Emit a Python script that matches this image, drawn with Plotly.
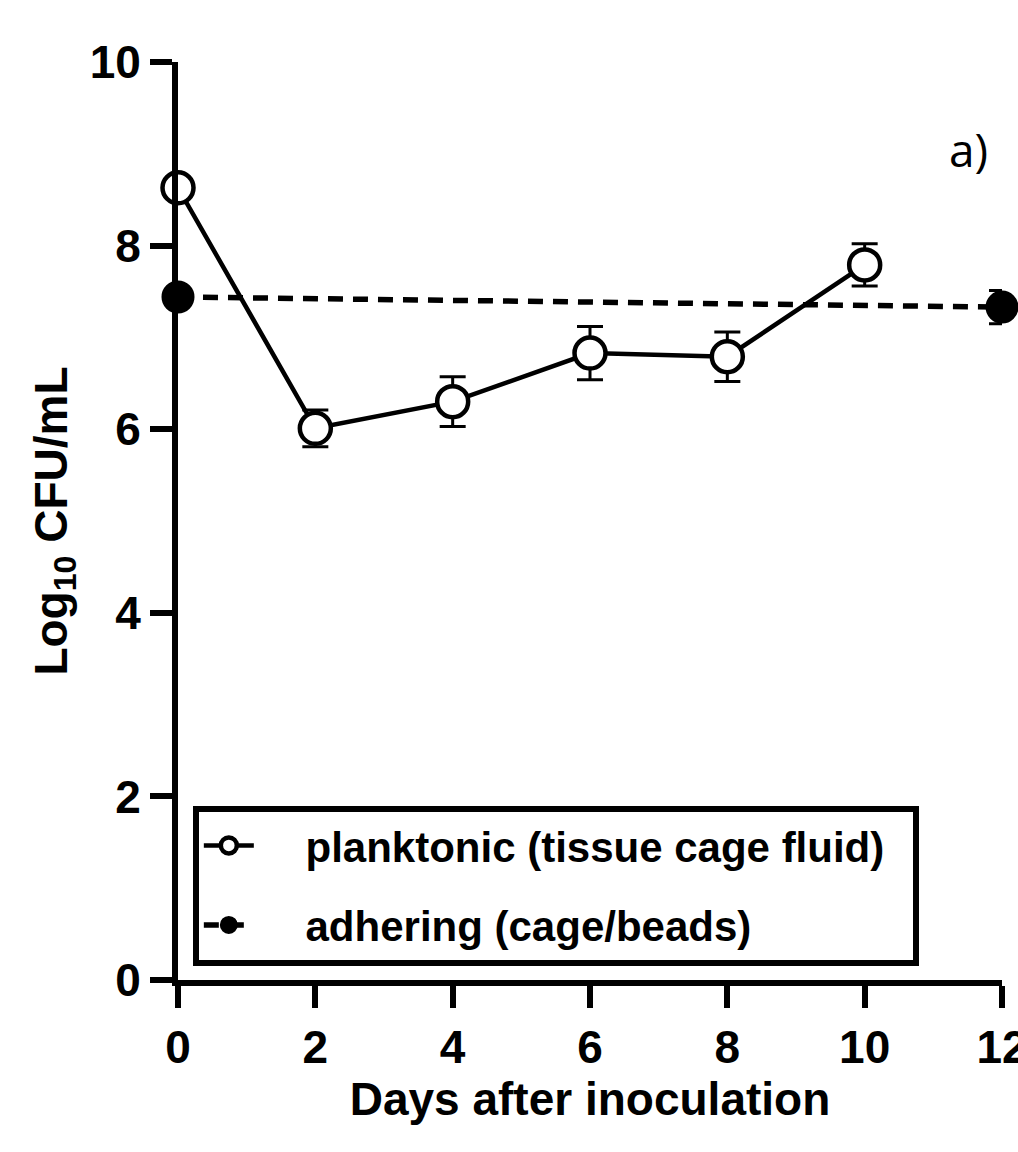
import plotly.graph_objects as go

days_plank = [0, 2, 4, 6, 8, 10]
log_plank = [8.63, 6.01, 6.30, 6.83, 6.79, 7.79]
err_plank = [0.0, 0.20, 0.27, 0.29, 0.27, 0.23]

days_adh = [0, 12]
log_adh = [7.44, 7.33]
err_adh = [0.0, 0.18]

x_ticks = [0, 2, 4, 6, 8, 10, 12]
y_ticks = [0, 2, 4, 6, 8, 10]

FONT = "Liberation Sans, Arial, sans-serif"
NB = "\u00a0"

fig = go.Figure()
fig.add_trace(go.Scatter(
    x=days_plank, y=log_plank, mode="lines+markers",
    name=NB * 4 + "planktonic (tissue cage fluid)" + NB * 2,
    line=dict(color="black", width=4.5),
    marker=dict(symbol="circle", size=31, color="white", line=dict(color="black", width=4.5)),
    error_y=dict(type="data", array=err_plank, visible=True, color="black", thickness=3, width=13),
    cliponaxis=False, legendgroup="a",
))
fig.add_trace(go.Scatter(
    x=days_adh, y=log_adh, mode="lines+markers",
    name=NB * 4 + "adhering (cage/beads)",
    line=dict(color="black", width=5.5, dash="15px,10px"),
    marker=dict(symbol="circle", size=31, color="black", line=dict(color="black", width=2)),
    error_y=dict(type="data", array=err_adh, visible=True, color="black", thickness=3, width=13),
    cliponaxis=False, legendgroup="b",
))

fig.update_layout(
    width=1018, height=1152,
    margin=dict(l=178, r=16, t=62, b=172),
    plot_bgcolor="white", paper_bgcolor="white",
    font=dict(family=FONT, color="black", size=44, weight="bold"),
    showlegend=True,
    legend=dict(
        x=0.018, y=0.19, xanchor="left", yanchor="top",
        bordercolor="black", borderwidth=6, bgcolor="white",
        font=dict(family=FONT, size=42, weight="bold", color="black"),
        traceorder="grouped", tracegroupgap=22, itemwidth=50,
        itemsizing="trace",
    ),
    annotations=[dict(
        text="a)", x=0.985, y=0.905, xref="paper", yref="paper",
        xanchor="right", yanchor="middle", showarrow=False,
        font=dict(family="Open Sans, Liberation Sans, Arial", size=46, weight="normal", color="black"),
    )],
)
fig.update_xaxes(
    range=[0, 12], tickvals=x_ticks, ticktext=[str(v) for v in x_ticks],
    showline=True, linecolor="black", linewidth=6, showgrid=False, zeroline=False,
    ticks="outside", ticklen=22, tickwidth=6, tickcolor="black",
    ticklabeloverflow="allow", automargin=False,
    tickfont=dict(family=FONT, size=46, weight="bold"),
    title=dict(text="Days after inoculation", font=dict(family=FONT, size=46, weight="bold"), standoff=12),
)
fig.update_yaxes(
    range=[0, 10], tickvals=y_ticks, ticktext=[str(v) for v in y_ticks],
    showline=True, linecolor="black", linewidth=6, showgrid=False, zeroline=False,
    ticks="outside", ticklen=22, tickwidth=6, tickcolor="black",
    ticklabeloverflow="allow", automargin=False,
    tickfont=dict(family=FONT, size=46, weight="bold"),
    title=dict(text="Log<sub>10</sub> CFU/mL", font=dict(family=FONT, size=46, weight="bold"), standoff=10),
)

fig.write_html("out.html")
